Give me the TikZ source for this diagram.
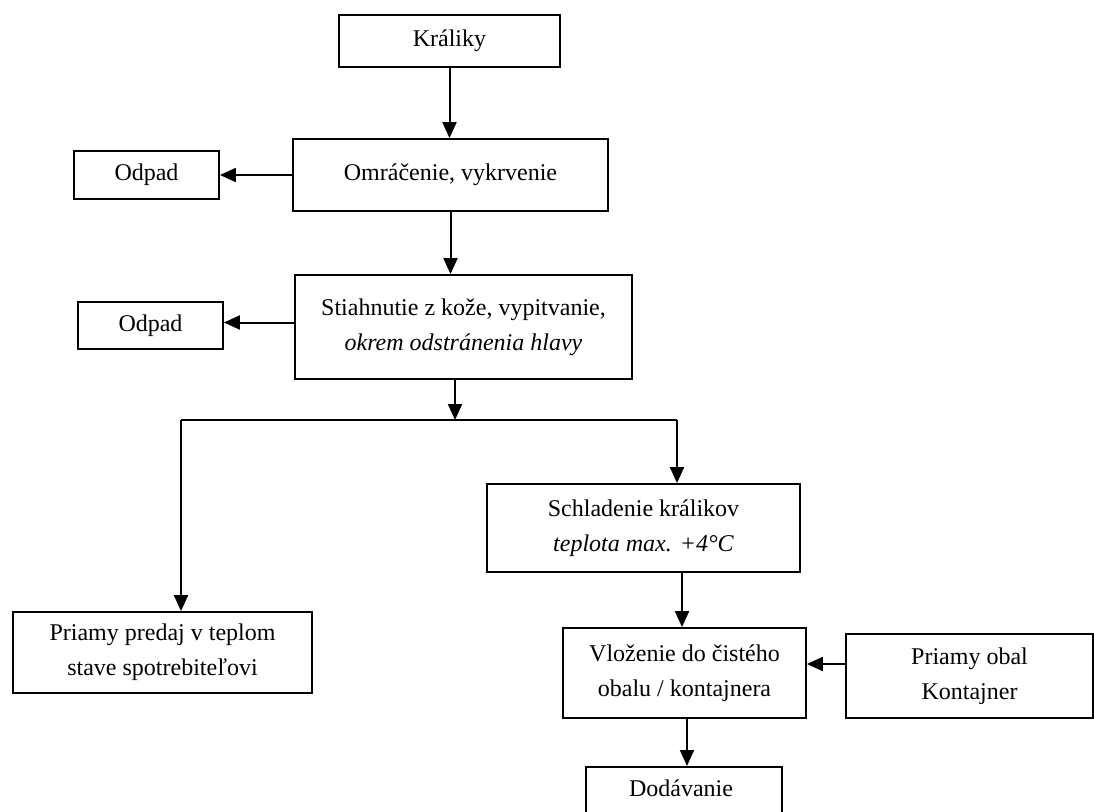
\documentclass[tikz,border=0pt]{standalone}
\usepackage{fontspec}
\setmainfont{Liberation Serif}
\usetikzlibrary{arrows.meta}
\begin{document}
\begin{tikzpicture}[x=1pt,y=-1pt,
  box/.style={draw, line width=1.8pt, rectangle, inner sep=0pt, align=center,
    font=\fontsize{24}{35}\selectfont},
  arr/.style={line width=2pt, -{Triangle[length=16pt,width=14pt]}},
  link/.style={line width=2pt}]
\path[use as bounding box, clip] (0,0) rectangle (1094,811);

% process boxes
\node[box, minimum width=221, minimum height=52] (kraliky) at (449.5,41) {Králiky};
\node[box, minimum width=315, minimum height=72] (omr) at (450.5,175) {Omráčenie, vykrvenie};
\node[box, minimum width=145, minimum height=48] (odpad1) at (146.5,175) {Odpad};
\node[box, minimum width=337, minimum height=104] (stiah) at (463.5,327)
  {Stiahnutie z kože, vypitvanie,\\ \textit{okrem odstránenia hlavy}};
\node[box, minimum width=145, minimum height=47] (odpad2) at (150.5,325.5) {Odpad};
\node[box, minimum width=299, minimum height=81] (predaj) at (162.5,652.5)
  {Priamy predaj v teplom\\ stave spotrebiteľovi};
\node[box, minimum width=313, minimum height=88] (schlad) at (643.5,528)
  {Schladenie králikov\\ \textit{teplota max. +4°C}};
\node[box, minimum width=243, minimum height=90] (vloz) at (684.5,673)
  {Vloženie do čistého\\ obalu / kontajnera};
\node[box, minimum width=247, minimum height=84] (obal) at (969.5,676)
  {Priamy obal\\ Kontajner};
\node[box, minimum width=196, minimum height=80, anchor=north] (dodav) at (684,766) {};
\node[font=\fontsize{24}{35}\selectfont, inner sep=0pt] (dodavtext) at (681,788) {Dodávanie};

% connectors
\draw[arr] (kraliky.south) -- (kraliky.south |- omr.north);
\draw[arr] (omr.west) -- (omr.west -| odpad1.east);
\draw[arr] (omr.south) -- (omr.south |- stiah.north);
\draw[arr] ([yshift=4.5pt]stiah.west) coordinate (sw) -- (sw -| odpad2.east);

\coordinate (split) at (455,420);
\coordinate (bl) at (181,420);
\coordinate (br) at (677,420);
\draw[arr] (stiah.south -| split) -- (split);
\draw[link] (bl) -- (br);
\draw[arr] (bl) -- (bl |- predaj.north);
\draw[arr] (br) -- (br |- schlad.north);

\draw[arr] ([xshift=-2.5pt]vloz.north |- schlad.south) coordinate (ss) -- (ss |- vloz.north);
\draw[arr] ([yshift=12pt]obal.west) coordinate (ow) -- (ow -| vloz.east);
\draw[arr] ([xshift=2.5pt]vloz.south) coordinate (vs) -- (vs |- dodav.north);
\end{tikzpicture}
\end{document}
